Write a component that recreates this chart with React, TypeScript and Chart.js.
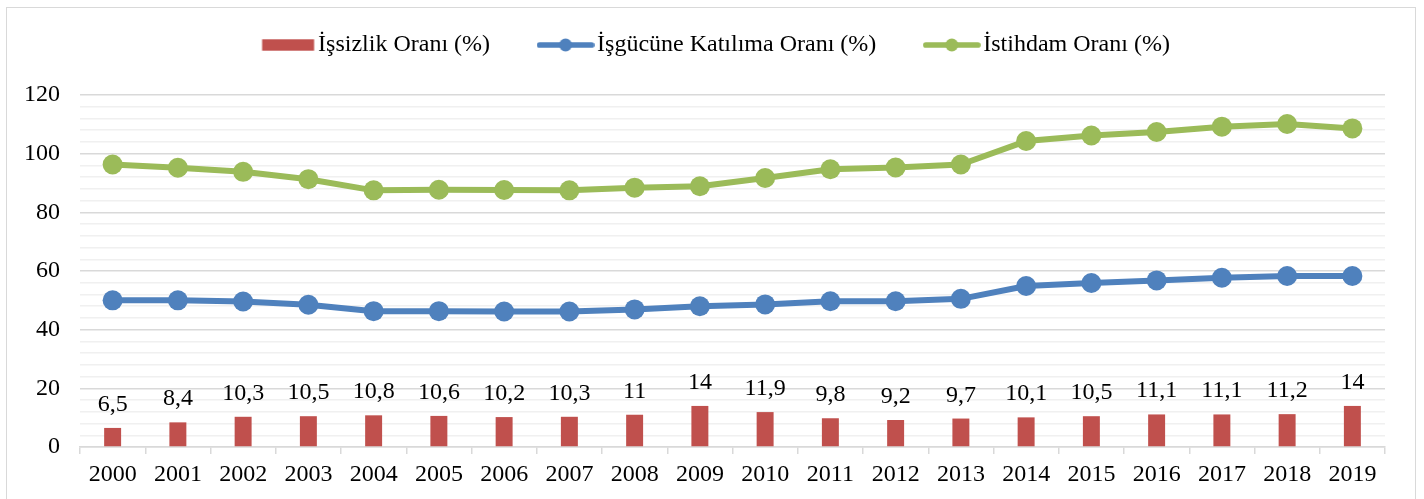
import React, { useEffect, useRef } from 'react';
import { Chart, registerables } from 'chart.js';

Chart.register(...registerables);

const YEARS = ['2000', '2001', '2002', '2003', '2004', '2005', '2006', '2007', '2008', '2009', '2010', '2011', '2012', '2013', '2014', '2015', '2016', '2017', '2018', '2019'];
const UNEMPLOYMENT = [6.5, 8.4, 10.3, 10.5, 10.8, 10.6, 10.2, 10.3, 11, 14, 11.9, 9.8, 9.2, 9.7, 10.1, 10.5, 11.1, 11.1, 11.2, 14];
const PARTICIPATION = [50.0, 50.0, 49.6, 48.5, 46.3, 46.3, 46.2, 46.2, 46.9, 48.0, 48.6, 49.7, 49.7, 50.5, 54.9, 55.9, 56.8, 57.7, 58.3, 58.3];
const EMPLOYMENT = [96.3, 95.2, 93.8, 91.3, 87.5, 87.7, 87.6, 87.5, 88.4, 88.9, 91.7, 94.7, 95.3, 96.3, 104.3, 106.2, 107.4, 109.2, 110.1, 108.6];
const SERIES_NAMES = ['İşsizlik Oranı (%)', 'İşgücüne Katılıma Oranı (%)', 'İstihdam Oranı (%)'];
const Y_LABEL_TICKS = [0, 20, 40, 60, 80, 100, 120];
const Y_MINOR_STEP = 4;

const RED = '#C0504D';
const BLUE = '#4F81BD';
const GREEN = '#9BBB59';
const FONT_FAMILY = '"Liberation Serif", "Times New Roman", serif';
const TEXT_COLOR = '#000000';

function makeBoxImage(color: string) {
  const c = document.createElement('canvas');
  c.width = 58;
  c.height = 14;
  const x = c.getContext('2d')!;
  x.fillStyle = color;
  x.fillRect(4.5, 1.3, 52, 11.4);
  return c;
}

function makeLineImage(color: string) {
  const c = document.createElement('canvas');
  c.width = 58;
  c.height = 16;
  const x = c.getContext('2d')!;
  x.strokeStyle = color;
  x.fillStyle = color;
  x.lineWidth = 5.7;
  x.lineCap = 'round';
  x.beginPath();
  x.moveTo(3, 8);
  x.lineTo(55, 8);
  x.stroke();
  x.beginPath();
  x.arc(29, 8, 6.5, 0, Math.PI * 2);
  x.fill();
  return c;
}

const legendTweak = {
  id: 'legendTweak',
  beforeLayout(chart: any) {
    const lg: any = chart.legend;
    if (lg && !lg.__patched) {
      const orig = lg.fit;
      lg.fit = function () {
        orig.call(this);
        this.height = 95;
      };
      lg.__patched = true;
    }
  },
  afterLayout(chart: any) {
    const lg: any = chart.legend;
    if (lg) {
      const d = -23 - lg.top;
      lg.top += d;
      lg.bottom += d;
      lg.left = 52;
    }
  },
};

const barLabels = {
  id: 'barLabels',
  afterDatasetsDraw(chart: any) {
    const meta = chart.getDatasetMeta(0);
    const ctx = chart.ctx;
    ctx.save();
    ctx.font = `24px ${FONT_FAMILY}`;
    ctx.fillStyle = TEXT_COLOR;
    ctx.textAlign = 'center';
    ctx.textBaseline = 'alphabetic';
    meta.data.forEach((el: any, i: number) => {
      const v = UNEMPLOYMENT[i];
      ctx.fillText(String(v).replace('.', ','), el.x, el.y - 17);
    });
    ctx.restore();
  },
};

export default function App() {
  const ref = useRef<HTMLCanvasElement | null>(null);

  useEffect(() => {
    if (!ref.current) return;
    const images = [makeBoxImage(RED), makeLineImage(BLUE), makeLineImage(GREEN)];
    const font = { family: FONT_FAMILY, size: 24 };
    const isMajor = (c: any) => c.tick && Y_LABEL_TICKS.includes(c.tick.value);
    const chart = new Chart(ref.current, {
      type: 'bar',
      data: {
        labels: YEARS,
        datasets: [
          {
            type: 'bar',
            label: SERIES_NAMES[0],
            data: UNEMPLOYMENT,
            backgroundColor: RED,
            borderWidth: 0,
            barPercentage: 0.26,
            categoryPercentage: 1,
            order: 3,
          } as any,
          {
            type: 'line',
            label: SERIES_NAMES[1],
            data: PARTICIPATION,
            borderColor: BLUE,
            backgroundColor: BLUE,
            borderWidth: 6,
            pointRadius: 10,
            pointBorderWidth: 0,
            pointBackgroundColor: BLUE,
            borderJoinStyle: 'round',
            borderCapStyle: 'round',
            tension: 0,
            order: 2,
          } as any,
          {
            type: 'line',
            label: SERIES_NAMES[2],
            data: EMPLOYMENT,
            borderColor: GREEN,
            backgroundColor: GREEN,
            borderWidth: 6,
            pointRadius: 10,
            pointBorderWidth: 0,
            pointBackgroundColor: GREEN,
            borderJoinStyle: 'round',
            borderCapStyle: 'round',
            tension: 0,
            order: 1,
          } as any,
        ],
      },
      options: {
        responsive: false,
        animation: false,
        layout: { padding: { left: 14, right: 39, top: 0, bottom: 0 } },
        plugins: {
          tooltip: { enabled: false },
          legend: {
            display: true,
            position: 'top',
            labels: {
              usePointStyle: true,
              pointStyleWidth: 39,
              padding: 56,
              font,
              color: TEXT_COLOR,
              generateLabels: (ch: any) =>
                ch.data.datasets.map((ds: any, i: number) => ({
                  text: ds.label,
                  pointStyle: images[i],
                  fillStyle: 'rgba(0,0,0,0)',
                  strokeStyle: 'rgba(0,0,0,0)',
                  lineWidth: 0,
                  hidden: false,
                  datasetIndex: i,
                  fontColor: TEXT_COLOR,
                })),
            },
          },
        },
        scales: {
          x: {
            type: 'category',
            offset: true,
            grid: {
              display: true,
              drawOnChartArea: false,
              drawTicks: true,
              tickLength: 7,
              offset: true,
              color: '#d9d9d9',
              lineWidth: 1.5,
            },
            border: { display: true, color: '#d9d9d9', width: 1.5 },
            ticks: { font, color: TEXT_COLOR, padding: 6, maxRotation: 0, autoSkip: false },
            afterFit: (s: any) => {
              s.height = 52;
            },
          },
          y: {
            type: 'linear',
            min: 0,
            max: 120,
            afterBuildTicks: (s: any) => {
              const t: any[] = [];
              for (let v = 0; v <= 120; v += Y_MINOR_STEP) t.push({ value: v });
              s.ticks = t;
            },
            grid: {
              color: (c: any) => (isMajor(c) ? '#d9d9d9' : '#f0f0f0'),
              lineWidth: 1.5,
              drawTicks: false,
            },
            border: { display: false },
            ticks: {
              autoSkip: false,
              padding: 20,
              font,
              color: TEXT_COLOR,
              callback: (v: any) => (Y_LABEL_TICKS.includes(Number(v)) ? String(v) : ''),
            },
            afterFit: (s: any) => {
              s.width = 66;
            },
          },
        },
      } as any,
      plugins: [legendTweak, barLabels],
    });
    return () => chart.destroy();
  }, []);

  return (
    <div style={{ position: 'absolute', left: 0, top: 0, width: 1424, height: 499, overflow: 'hidden', background: '#fff' }}>
      <div
        style={{
          position: 'absolute',
          left: 6,
          top: 7,
          width: 1410,
          height: 600,
          border: '1px solid #d9d9d9',
          boxSizing: 'border-box',
        }}
      />
      <canvas ref={ref} width={1424} height={499} style={{ position: 'absolute', left: 0, top: 0, width: 1424, height: 499 }} />
    </div>
  );
}
